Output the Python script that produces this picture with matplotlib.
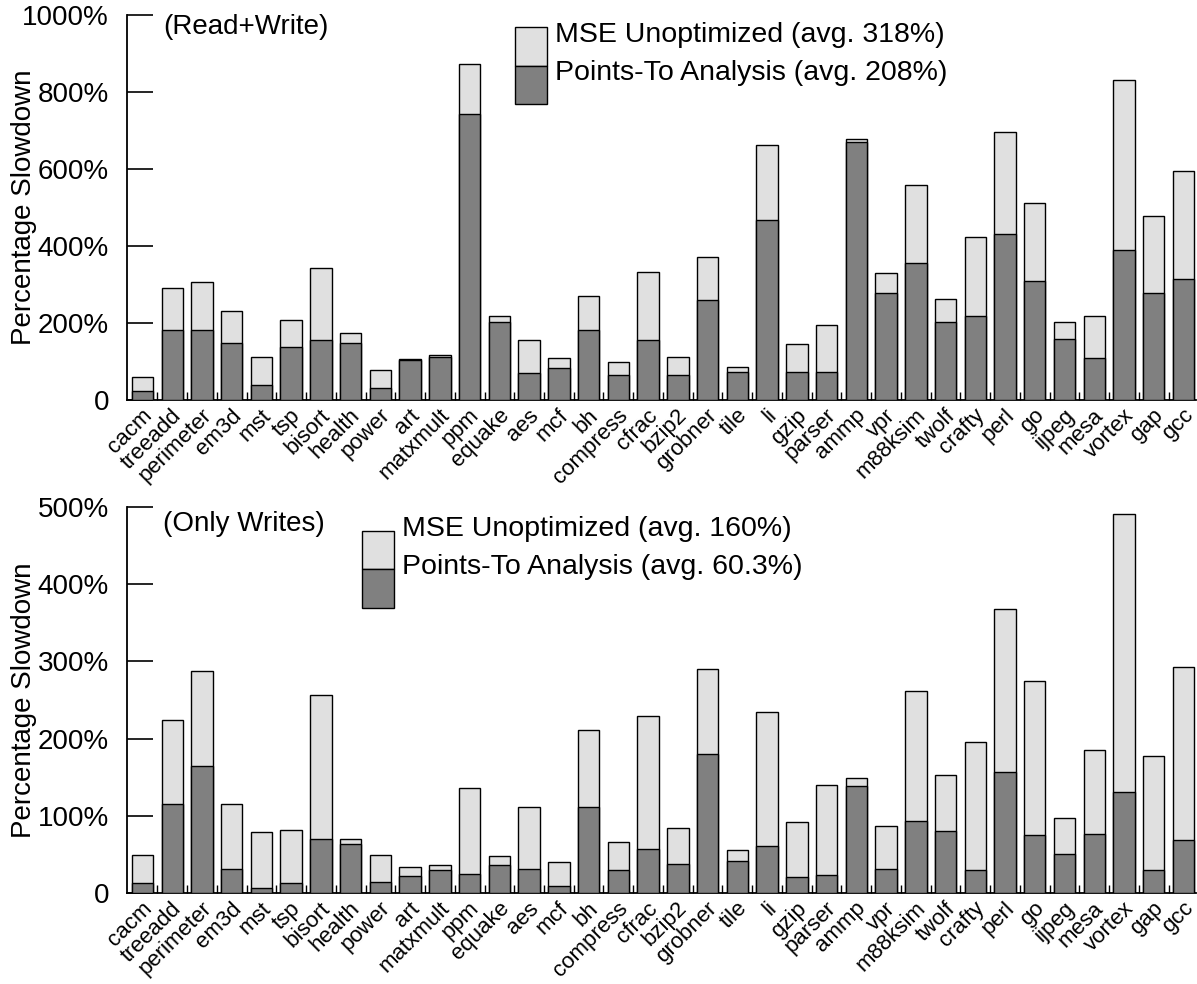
import numpy as np
import matplotlib.pyplot as plt
from matplotlib.patches import Rectangle
from matplotlib.transforms import ScaledTranslation

plt.rcParams['font.family'] = ['Liberation Sans', 'DejaVu Sans']

benchmarks = ["cacm", "treeadd", "perimeter", "em3d", "mst", "tsp", "bisort", "health",
              "power", "art", "matxmult", "ppm", "equake", "aes", "mcf", "bh",
              "compress", "cfrac", "bzip2", "grobner", "tile", "li", "gzip", "parser",
              "ammp", "vpr", "m88ksim", "twolf", "crafty", "perl", "go", "ijpeg",
              "mesa", "vortex", "gap", "gcc"]

# (Read+Write)
rw_mse = [59, 290, 306, 230, 112, 207, 342, 175, 77, 107, 116, 874, 217, 157, 110, 270,
          98, 333, 112, 372, 86, 663, 146, 195, 677, 329, 559, 262, 423, 697, 511, 203,
          219, 831, 478, 594]
rw_pta = [24, 181, 183, 147, 40, 137, 157, 147, 32, 105, 112, 744, 202, 70, 83, 181,
          65, 155, 65, 259, 72, 467, 73, 73, 671, 277, 357, 203, 219, 431, 308, 159,
          110, 390, 277, 314]

# (Only Writes)
w_mse = [49, 224, 287, 115, 79, 81, 257, 70, 49, 34, 36, 136, 48, 112, 40, 211,
         66, 229, 84, 290, 56, 234, 92, 140, 149, 87, 262, 153, 196, 368, 274, 97,
         185, 491, 177, 293]
w_pta = [13, 115, 165, 31, 6, 13, 70, 63, 14, 22, 30, 24, 36, 31, 9, 111,
         30, 57, 38, 180, 42, 61, 21, 23, 139, 31, 93, 80, 30, 157, 75, 50,
         76, 131, 30, 69]

LIGHT = "#e0e0e0"
DARK = "#808080"
W, H = 1197, 984

fig = plt.figure(figsize=(W / 100, H / 100), dpi=100)


def px(x, y):
    # pixel position (from top-left) -> figure fraction
    return x / W, 1 - y / H


def panel(rect, mse, pta, ymax, step, title, title_y, key_x, key_y, text_y, labels):
    ax = fig.add_axes(rect)
    x = np.arange(len(benchmarks))
    ax.bar(x, mse, width=0.72, color=LIGHT, edgecolor="black", linewidth=1.0, zorder=2)
    ax.bar(x, pta, width=0.72, color=DARK, edgecolor="black", linewidth=1.0, zorder=3)
    ax.set_xlim(-0.52, 35.42)
    ax.set_ylim(0, ymax)
    for s in ["top", "right"]:
        ax.spines[s].set_visible(False)
    for s in ["left", "bottom"]:
        ax.spines[s].set_linewidth(1.3)

    yt = np.arange(0, ymax + 1, step)
    ax.set_yticks(yt)
    ax.set_yticklabels(["0"] + ["%d%%" % v for v in yt[1:]])
    ax.tick_params(axis="y", direction="in", length=19, width=1.2, pad=13, labelsize=20)

    ax.set_xticks(x)
    ax.set_xticks(x[:-1] + 0.5, minor=True)
    ax.tick_params(axis="x", which="major", length=0, pad=3.5, labelsize=16)
    ax.tick_params(axis="x", which="minor", direction="in", length=6, width=1.0)
    ax.set_xticklabels(benchmarks, rotation=45, ha="right", va="top", rotation_mode="anchor")
    off = ScaledTranslation(-0.01, 0, fig.dpi_scale_trans)
    for lab in ax.get_xticklabels():
        lab.set_transform(lab.get_transform() + off)

    ax.set_ylabel("Percentage Slowdown", fontsize=20)
    ax.yaxis.set_label_coords(-0.084, 0.5)

    tx, ty = px(163, title_y)
    fig.text(tx, ty, title, fontsize=20, va="center", ha="left")

    # stacked key sample
    ytop, ymid, ybot = key_y
    x0, y1 = px(key_x, ymid)
    x1, y0 = px(key_x + 32, ytop)
    fig.add_artist(Rectangle((x0, y1), x1 - x0, y0 - y1, transform=fig.transFigure,
                             facecolor=LIGHT, edgecolor="black", linewidth=1.0))
    x0, y1 = px(key_x, ybot)
    x1, y0 = px(key_x + 32, ymid)
    fig.add_artist(Rectangle((x0, y1), x1 - x0, y0 - y1, transform=fig.transFigure,
                             facecolor=DARK, edgecolor="black", linewidth=1.0))
    for i, lab in enumerate(labels):
        tx, ty = px(key_x + 40, text_y[i])
        fig.text(tx, ty, lab, fontsize=20.5, va="center", ha="left")
    return ax


panel([127 / W, 1 - 400 / H, 1069 / W, 385 / H], rw_mse, rw_pta, 1000, 200,
      "(Read+Write)", 27, 515, (27, 66, 104), (35, 73),
      ["MSE Unoptimized (avg. 318%)", "Points-To Analysis (avg. 208%)"])
panel([127 / W, 1 - 893 / H, 1069 / W, 386 / H], w_mse, w_pta, 500, 100,
      "(Only Writes)", 524, 362, (531, 569, 608), (529, 567),
      ["MSE Unoptimized (avg. 160%)", "Points-To Analysis (avg. 60.3%)"])

fig.savefig("out.png", dpi=100)
